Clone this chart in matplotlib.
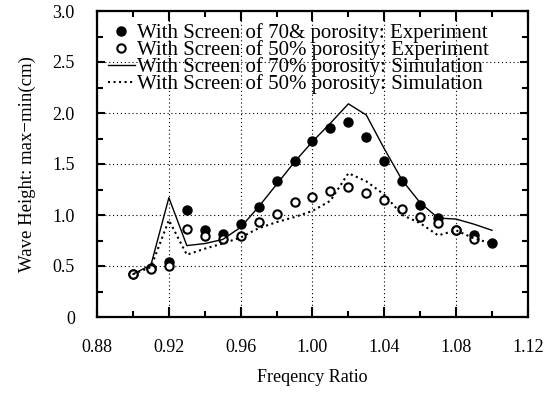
import numpy as np
import matplotlib
matplotlib.use('Agg')
import matplotlib.pyplot as plt
from matplotlib.ticker import MultipleLocator, FixedLocator, FixedFormatter

plt.rcParams['font.family'] = ['Liberation Serif', 'DejaVu Serif']

# 实验数据: 70% 孔隙率
exp70_x = [0.90, 0.91, 0.92, 0.93, 0.94, 0.95, 0.96, 0.97, 0.98, 0.99, 1.00,
           1.01, 1.02, 1.03, 1.04, 1.05, 1.06, 1.07, 1.08, 1.09, 1.10]
exp70_y = [0.42, 0.48, 0.54, 1.05, 0.85, 0.81, 0.91, 1.08, 1.33, 1.53, 1.73,
           1.85, 1.91, 1.76, 1.53, 1.33, 1.10, 0.97, 0.85, 0.80, 0.73]

# 实验数据: 50% 孔隙率
exp50_x = [0.90, 0.91, 0.92, 0.93, 0.94, 0.95, 0.96, 0.97, 0.98, 0.99, 1.00,
           1.01, 1.02, 1.03, 1.04, 1.05, 1.06, 1.07, 1.08, 1.09]
exp50_y = [0.42, 0.47, 0.50, 0.86, 0.79, 0.76, 0.79, 0.93, 1.01, 1.13, 1.18,
           1.24, 1.27, 1.22, 1.15, 1.06, 0.98, 0.92, 0.85, 0.76]

# 模拟结果
sim_x = [0.90, 0.91, 0.92, 0.93, 0.94, 0.95, 0.96, 0.97, 0.98, 0.99, 1.00,
         1.01, 1.02, 1.03, 1.04, 1.05, 1.06, 1.07, 1.08, 1.09, 1.10]
sim70_y = [0.42, 0.51, 1.17, 0.70, 0.72, 0.76, 0.88, 1.08, 1.30, 1.52, 1.72,
           1.90, 2.09, 1.98, 1.65, 1.34, 1.12, 0.97, 0.96, 0.91, 0.85]
sim50_y = [0.42, 0.49, 0.95, 0.61, 0.67, 0.72, 0.78, 0.87, 0.93, 0.98, 1.04,
           1.14, 1.41, 1.33, 1.20, 1.00, 0.92, 0.80, 0.85, 0.77, 0.72]

x_ticks = [0.88, 0.92, 0.96, 1.00, 1.04, 1.08, 1.12]
x_labels = ['0.88', '0.92', '0.96', '1.00', '1.04', '1.08', '1.12']
y_ticks = [0, 0.5, 1.0, 1.5, 2.0, 2.5, 3.0]
y_labels = ['0', '0.5', '1.0', '1.5', '2.0', '2.5', '3.0']

fig = plt.figure(figsize=(5.58, 4.0), dpi=100)
ax = fig.add_axes([0.174, 0.2075, 0.772, 0.765])

ax.plot(exp70_x, exp70_y, 'o', color='black', markersize=6.5,
        label='With Screen of 70& porosity: Experiment')
ax.plot(exp50_x, exp50_y, 'o', mfc='white', mec='black', mew=1.5, markersize=6,
        label='With Screen of 50% porosity: Experiment')
ax.plot(sim_x, sim70_y, '-', color='black', lw=1.0,
        label='With Screen of 70% porosity: Simulation')
ax.plot(sim_x, sim50_y, ':', color='black', lw=1.5,
        label='With Screen of 50% porosity: Simulation')

ax.set_xlim(0.88, 1.12)
ax.set_ylim(0, 3.0)
ax.xaxis.set_major_locator(FixedLocator(x_ticks))
ax.xaxis.set_major_formatter(FixedFormatter(x_labels))
ax.yaxis.set_major_locator(FixedLocator(y_ticks))
ax.yaxis.set_major_formatter(FixedFormatter(y_labels))
ax.xaxis.set_minor_locator(MultipleLocator(0.02))
ax.yaxis.set_minor_locator(MultipleLocator(0.25))

ax.tick_params(which='both', direction='in', top=True, right=True,
               labelsize=13, width=1.5)
ax.tick_params(axis='x', which='major', length=7, pad=16)
ax.tick_params(axis='y', which='major', length=6, pad=16)
ax.tick_params(which='minor', length=4)
for s in ax.spines.values():
    s.set_linewidth(1.6)

ax.grid(True, which='major', linestyle=(0, (1, 2.5)), color='black', lw=0.8)

ax.set_xlabel('Freqency Ratio', fontsize=13, labelpad=9)
ax.set_ylabel('Wave Height: max\u2212min(cm)', fontsize=13.5, labelpad=12)

ax.legend(loc='upper left', bbox_to_anchor=(0.015, 0.974), frameon=False,
          fontsize=15, handlelength=1.3, handletextpad=0.1, labelspacing=-0.14,
          borderaxespad=0, borderpad=0.2)

fig.savefig('out.png', dpi=100)
